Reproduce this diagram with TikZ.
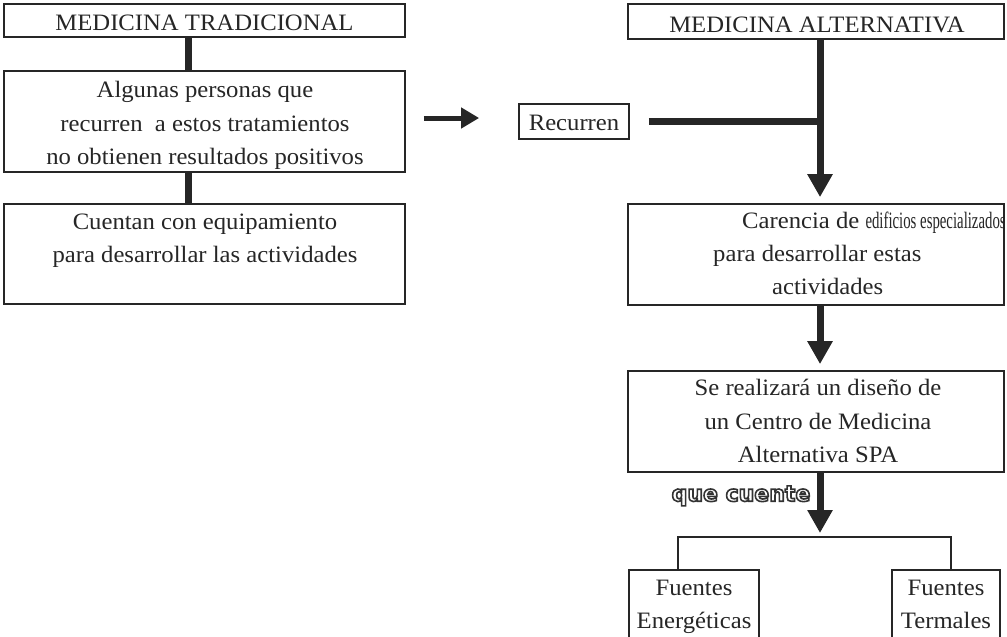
\documentclass[tikz,border=0pt]{standalone}
\usepackage{fontspec}
\usepackage{graphicx}
\setmainfont{Liberation Serif}[FakeStretch=1.05]
\newfontfamily\qfont{DejaVu Sans}
\usetikzlibrary{arrows.meta,calc}
\definecolor{ink}{HTML}{262626}
\tikzset{
  box/.style={draw=ink, line width=1.8pt, rectangle, inner sep=0pt},
  txt/.style={inner sep=0pt, text=ink, font=\fontsize{23.5}{33.5}\selectfont, align=center},
  bar/.style={draw=ink, line width=7pt},
  bigarrow/.style={draw=ink, line width=7pt, -{Triangle[length=23pt,width=24pt]}},
  smallarrow/.style={draw=ink, line width=5pt, -{Triangle[length=18pt,width=20pt]}},
  bracketline/.style={draw=ink, line width=1.4pt},
  outl/.style={inner sep=0pt, font=\qfont\bfseries\fontsize{22}{26}\selectfont, anchor=mid}
}
\begin{document}
\begin{tikzpicture}[x=1pt,y=-1pt]
\useasboundingbox (0,0) rectangle (1007,637);
\fill[white] (0,0) rectangle (1007,637);
\clip (0,0) rectangle (1007,637);

% ---------- left column ----------
\node[box, minimum width=401pt, minimum height=33pt]  (a1) at (204.5,20.5) {};
\node[box, minimum width=401pt, minimum height=101pt] (a2) at (204.5,121.5) {};
\node[box, minimum width=401pt, minimum height=100pt] (a3) at (204.5,254) {};
\node[txt, anchor=base] (a1t) at (204.5,30) {MEDICINA TRADICIONAL};
\node[txt] (a2t) at (205,124.6) {\strut Algunas personas que\\recurren\ \ a estos tratamientos\\no obtienen resultados positivos\strut};
\node[txt] (a3t) at (205,239.3) {\strut Cuentan con equipamiento\\para desarrollar las actividades\strut};
\draw[bar] ([xshift=-16.5pt]a1.south) -- ([xshift=-16.5pt]a2.north);
\draw[bar] ([xshift=-16.5pt]a2.south) -- ([xshift=-16.5pt]a3.north);

% ---------- middle ----------
\node[box, minimum width=110pt, minimum height=35pt] (rec) at (574,121.5) {};
\node[txt, anchor=base] (rect) at (574,130) {Recurren};
\draw[smallarrow, shorten <=18pt, shorten >=39pt] ([yshift=3.5pt]a2.east) -- ([yshift=3.5pt]rec.west);

% ---------- right column ----------
\node[box, minimum width=376pt, minimum height=35pt]  (b1) at (816,21.5) {};
\node[box, minimum width=376pt, minimum height=101pt] (b2) at (816,254.5) {};
\node[box, minimum width=376pt, minimum height=101pt] (b3) at (816,421.5) {};
\node[txt, anchor=base] (b1t) at (817,32) {MEDICINA ALTERNATIVA};
\node[txt, anchor=mid west] (b2l1) at (742,226) {Carencia de \scalebox{0.6}[1]{edificios especializados}};
\node[txt, anchor=mid west] (b2l2) at (713,259) {para desarrollar estas};
\node[txt, anchor=mid west] (b2l3) at (772,292) {actividades};
\node[txt] (b3t) at (818,422.6) {\strut Se realizará un diseño de\\un Centro de Medicina\\Alternativa SPA\strut};

\coordinate (j) at (820,120);
\draw[bigarrow, shorten >=6pt] ([xshift=4pt]b1.south) -- ([xshift=4pt]b2.north);
\draw[bar, shorten <=19pt] (rec.east) -- (rec.east -| j);
\draw[bigarrow, shorten >=6pt] ([xshift=4pt]b2.south) -- ([xshift=4pt]b3.north);

% ---------- bottom ----------
\node[box, minimum width=130pt, minimum height=80pt] (b4) at (694,610) {};
\node[box, minimum width=108pt, minimum height=80pt] (b5) at (946,610) {};
\node[txt] (b4t) at (694,605.3) {\strut Fuentes\\Energéticas\strut};
\node[txt] (b5t) at (946,605.3) {\strut Fuentes\\Termales\strut};

\coordinate (bl) at (678,537);
\coordinate (bm) at (820,537);
\coordinate (brr) at (951,537);
\draw[bigarrow, shorten >=4pt] ([xshift=4pt]b3.south) -- (bm);
\draw[bracketline] (b4.north -| bl) -- (bl) -- (brr) -- (b5.north -| brr);

% outlined label (stroked glyph outlines)
\node[outl, text=ink] (qc) at (741,499) {\special{pdf:literal direct 1 Tr 1.6 w 0.2 G}que cuente\special{pdf:literal direct 0 Tr}};
\end{tikzpicture}
\end{document}
